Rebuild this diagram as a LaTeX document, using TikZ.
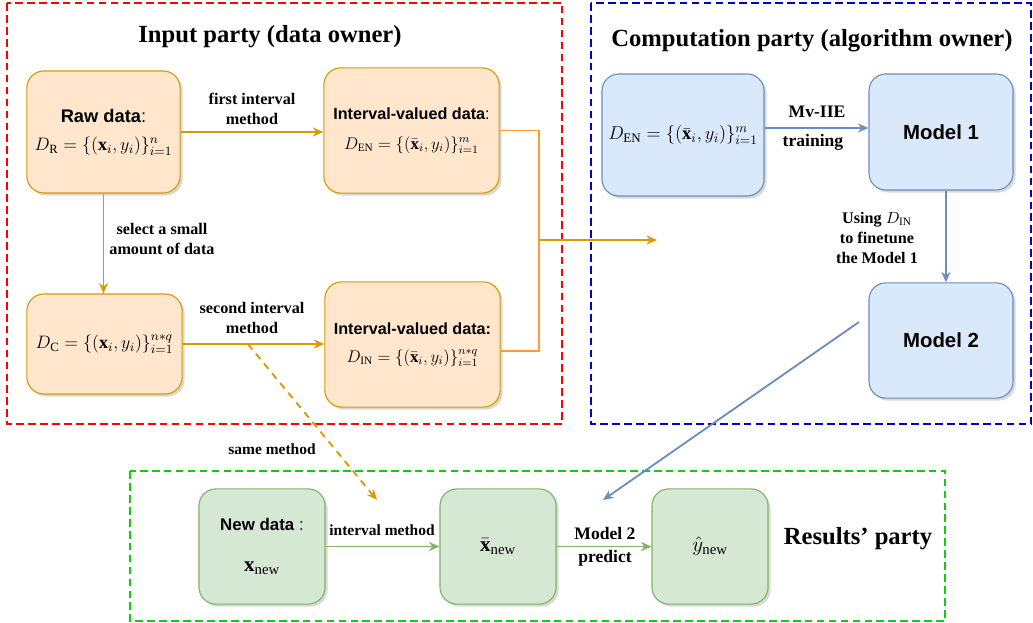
\RequirePackage{fix-cm}
\documentclass[tikz,border=0pt]{standalone}
\usepackage{amsmath,amssymb}
\usepackage{fontspec}
\setmainfont{Liberation Serif}
\newfontfamily\labelsans{Liberation Sans}
\usetikzlibrary{positioning, arrows.meta, calc, shadows}

\definecolor{orfill}{HTML}{FFE6CC}
\definecolor{orline}{HTML}{D79B00}
\definecolor{orfeed}{HTML}{FF9933}
\definecolor{blfill}{HTML}{DAE8FC}
\definecolor{blline}{HTML}{6C8EBF}
\definecolor{grfill}{HTML}{D5E8D4}
\definecolor{grline}{HTML}{82B366}
\definecolor{partyred}{HTML}{FF0000}
\definecolor{partyblue}{HTML}{0000CC}
\definecolor{partygreen}{HTML}{11CC11}

% sans box heading: size, bold text, trailing punctuation
\newcommand{\sflabel}[3]{{\labelsans\fontsize{#1}{#1}\selectfont\textbf{#2}#3}}

\begin{document}
\begin{tikzpicture}[
  x=0.025cm, y=-0.025cm,
  >={Stealth[length=7.5pt, width=6.5pt, inset=2.5pt]},
  every node/.style={font=\fontsize{11.5}{14}\selectfont\bfseries},
  databox/.style={draw, rounded corners=12pt, align=center, inner sep=3pt, line width=0.8pt,
    drop shadow={shadow xshift=1.8pt, shadow yshift=-1.8pt, opacity=0.3}},
  inbox/.style={databox, fill=orfill, draw=orline, font=\fontsize{12}{14}\selectfont},
  compbox/.style={databox, fill=blfill, draw=blline, font=\fontsize{13.2}{16}\selectfont},
  outbox/.style={databox, fill=grfill, draw=grline, font=\fontsize{15}{17}\selectfont},
  party/.style={line width=1.4pt, dash pattern=on 5.5pt off 3pt},
  partytitle/.style={font=\fontsize{17.5}{20}\selectfont\bfseries},
  flow/.style={->, line width=1.3pt},
  tag/.style={align=center, inner sep=1pt}
]
\useasboundingbox (0,0) rectangle (1033,623);

% Party frames
\draw[party, draw=partyred] (7,3) rectangle (562,424);
\draw[party, draw=partyblue] (591,3) rectangle (1031,424);
\draw[party, draw=partygreen] (130,471) rectangle (945,621);

\node[partytitle] (intitle) at (270,37) {Input party (data owner)};
\node[partytitle] (comptitle) at (812,41) {Computation party (algorithm owner)};
\node[partytitle] (restitle) at (858,539) {Results’ party};

% Input party
\node[inbox, minimum width=3.83cm, minimum height=3.05cm] (raw) at (103.5,132)
  {\sflabel{13}{Raw data}{:}\\[6pt] {\fontsize{12.8}{14}\selectfont$D_{\mathrm{R}}=\{(\mathbf{x}_i,y_i)\}_{i=1}^{n}$}};
\node[inbox, minimum width=4.38cm, minimum height=3.13cm] (en) at (411.5,130.5)
  {\sflabel{11.5}{Interval-valued data}{:}\\[7pt] $D_{\mathrm{EN}}=\{(\bar{\mathbf{x}}_i,y_i)\}_{i=1}^{m}$};
\node[inbox, minimum width=3.88cm, minimum height=2.5cm, font=\fontsize{12.8}{14}\selectfont] (dc) at (104.5,344)
  {$D_{\mathrm{C}}=\{(\mathbf{x}_i,y_i)\}_{i=1}^{n*q}$};
\node[inbox, minimum width=4.38cm, minimum height=3.13cm] (in) at (412.5,344.5)
  {\sflabel{11.5}{Interval-valued data:}{}\\[6pt] $D_{\mathrm{IN}}=\{(\bar{\mathbf{x}}_i,y_i)\}_{i=1}^{n*q}$};

% Computation party
\node[compbox, minimum width=4.05cm, minimum height=3.05cm] (den) at (683,135)
  {$D_{\mathrm{EN}}=\{(\bar{\mathbf{x}}_i,y_i)\}_{i=1}^{m}$};
\node[compbox, minimum width=3.6cm, minimum height=2.9cm] (m1) at (941,132) {\sflabel{14.5}{Model 1}{}};
\node[compbox, minimum width=3.6cm, minimum height=2.88cm] (m2) at (941,340.5) {\sflabel{14.5}{Model 2}{}};

% Results' party
\node[outbox, minimum width=3.15cm, minimum height=2.88cm] (newd) at (262,546.5)
  {\sflabel{12}{New data}{ :}\\[12pt] $\mathbf{x}_{\mathrm{new}}$};
\node[outbox, minimum width=2.9cm, minimum height=2.88cm] (xbar) at (498,546.5) {$\bar{\mathbf{x}}_{\mathrm{new}}$};
\node[outbox, minimum width=2.9cm, minimum height=2.88cm] (yhat) at (710,546.5) {$\hat{y}_{\mathrm{new}}$};

% Arrows inside the input party
\draw[flow, orline] (raw.east) -- (raw.east -| en.west);
\node[tag] (firstlab) at (252,109) {first interval\\method};
\draw[flow, orline] (raw.south) -- (raw.south |- dc.north);
\node[tag, font=\fontsize{11.5}{14.5}\selectfont\bfseries] (selectlab) at (162,239) {select a small\\amount of data};
\draw[flow, orline] (dc.east) -- (dc.east -| in.west);
\node[tag] (secondlab) at (252,318) {second interval\\method};

% Interval data sent to the computation party
\coordinate (merge) at (539,240);
\coordinate (mergetip) at (657,240);
\draw[orfeed, line width=1.2pt] (en.east) -| (merge);
\draw[orfeed, line width=1.2pt] ([yshift=-4.5pt]in.east) -| (merge);
\draw[flow, orline] (merge) -- (mergetip);

% Same method for new data
\coordinate (samefrom) at ($(dc.east)!0.46!(dc.east -| in.west)$);
\coordinate (sametip) at (377,500);
\draw[flow, orline, dash pattern=on 5pt off 4pt] (samefrom) -- (sametip);
\node[tag, font=\fontsize{11}{13}\selectfont\bfseries] (samelab) at (272,449) {same method};

% Arrows inside the computation party
\draw[flow, blline] ([yshift=5pt]den.east) -- ([yshift=5pt]den.east -| m1.west);
\node[tag, font=\fontsize{12.5}{15}\selectfont\bfseries] (mvlab) at (817,112) {Mv-IIE};
\node[tag, font=\fontsize{12.5}{15}\selectfont\bfseries] (trainlab) at (813,142) {training};
\draw[flow, blline] ([xshift=3.5pt]m1.south) -- ([xshift=3.5pt]m2.north);
\node[tag, font=\fontsize{11.5}{14.5}\selectfont\bfseries] (tunelab) at (877,238) {Using $D_{\mathrm{IN}}$\\to finetune\\the Model 1};

% Model 2 handed to the results' party
\coordinate (m2tail) at (859,322);
\coordinate (predtip) at (603,500);
\draw[flow, blline] (m2tail) -- (predtip);

% Arrows inside the results' party
\draw[flow, grline] (newd) -- (xbar);
\node[tag, font=\fontsize{11}{13}\selectfont\bfseries] (intlab) at (382,530) {interval method};
\draw[flow, grline] (xbar) -- (yhat);
\node[tag, font=\fontsize{12.5}{15}\selectfont\bfseries] (modlab) at (605,533) {Model 2};
\node[tag, font=\fontsize{12.5}{15}\selectfont\bfseries] (predlab) at (605,558) {predict};

\end{tikzpicture}
\end{document}
